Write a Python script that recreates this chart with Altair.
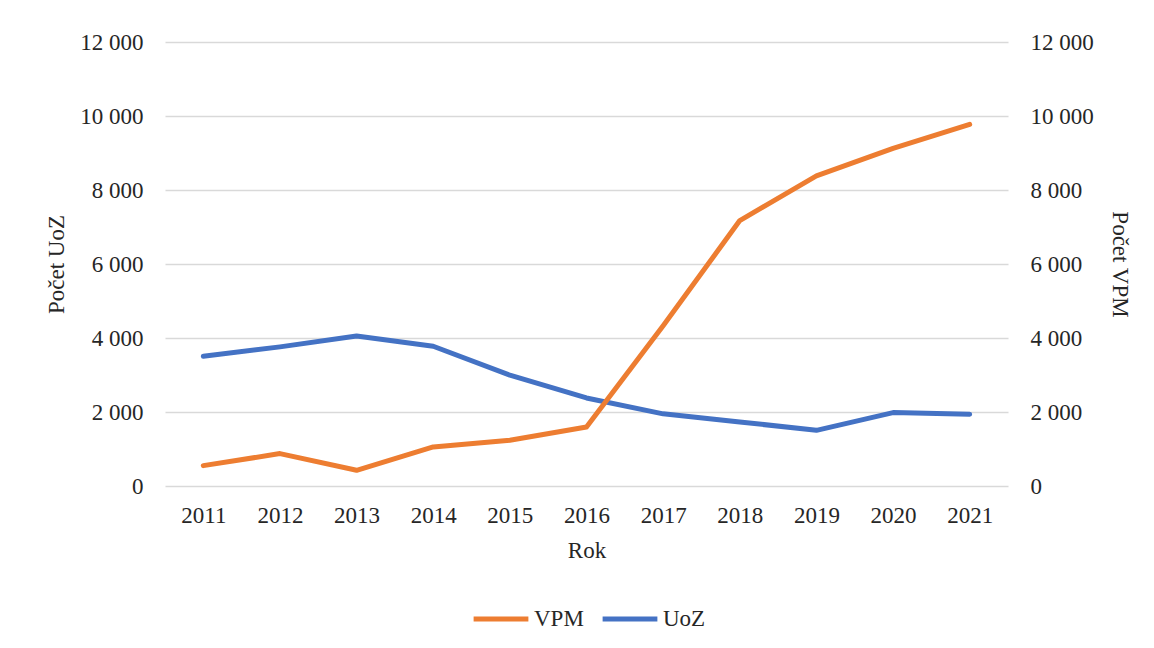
import altair as alt
import pandas as pd

years = ["2011", "2012", "2013", "2014", "2015", "2016", "2017", "2018", "2019", "2020", "2021"]
vpm = [551, 876, 425, 1055, 1236, 1596, 4330, 7174, 8380, 9124, 9773]
uoz = [3507, 3760, 4056, 3778, 2994, 2380, 1950, 1731, 1505, 1984, 1939]
series_names = ["VPM", "UoZ"]
series_colors = ["#ED7D31", "#4472C4"]
y_ticks = [0, 2000, 4000, 6000, 8000, 10000, 12000]

rows = []
for i, yr in enumerate(years):
    rows.append({"Rok": yr, "series": "VPM", "value": vpm[i]})
    rows.append({"Rok": yr, "series": "UoZ", "value": uoz[i]})
df = pd.DataFrame(rows)

font = "Liberation Serif"
txt = "#262626"
fs = 23
label_expr = "replace(format(datum.value, ','), ',', ' ')"

base = alt.Chart(df).encode(
    x=alt.X(
        "Rok:O",
        sort=years,
        scale=alt.Scale(type="point", padding=0.5),
        axis=alt.Axis(title="Rok", labelAngle=0, ticks=False, domain=False,
                      grid=False, labelPadding=18, titlePadding=12),
    ),
    color=alt.Color(
        "series:N",
        scale=alt.Scale(domain=series_names, range=series_colors),
        legend=alt.Legend(title=None, orient="none", direction="horizontal",
                          legendX=306, legendY=547,
                          symbolType="stroke", symbolSize=3000, symbolStrokeWidth=5,
                          labelFont=font, labelFontSize=fs, labelColor=txt,
                          labelOffset=3, columnPadding=8, labelLimit=200),
    ),
)

uoz_layer = base.transform_filter("datum.series == 'UoZ'").mark_line(
    strokeWidth=5, strokeCap="round", strokeJoin="round"
).encode(
    y=alt.Y("value:Q", scale=alt.Scale(domain=[0, 12000]),
            axis=alt.Axis(title="Počet UoZ", orient="left", values=y_ticks,
                          labelExpr=label_expr, grid=True, domain=False, ticks=False,
                          labelPadding=22, titlePadding=11))
)

vpm_layer = base.transform_filter("datum.series == 'VPM'").mark_line(
    strokeWidth=5, strokeCap="round", strokeJoin="round"
).encode(
    y=alt.Y("value:Q", scale=alt.Scale(domain=[0, 12000]),
            axis=alt.Axis(title="Počet VPM", orient="right", values=y_ticks,
                          labelExpr=label_expr, grid=False, domain=False, ticks=False,
                          labelPadding=22, titlePadding=14))
)

chart = alt.layer(uoz_layer, vpm_layer).resolve_scale(y="independent").properties(
    width=843, height=444,
    padding={"left": 157, "top": 34, "right": 130, "bottom": 152},
    autosize=alt.AutoSizeParams(type="none"),
    background="white",
).configure_axis(
    labelFont=font, titleFont=font, labelFontSize=fs, titleFontSize=fs,
    labelColor=txt, titleColor=txt, titleFontWeight="normal",
    gridColor="#d9d9d9", gridWidth=1.5,
).configure_view(stroke=None)

chart.save("out.html", embed_options={"renderer": "svg", "actions": False})
